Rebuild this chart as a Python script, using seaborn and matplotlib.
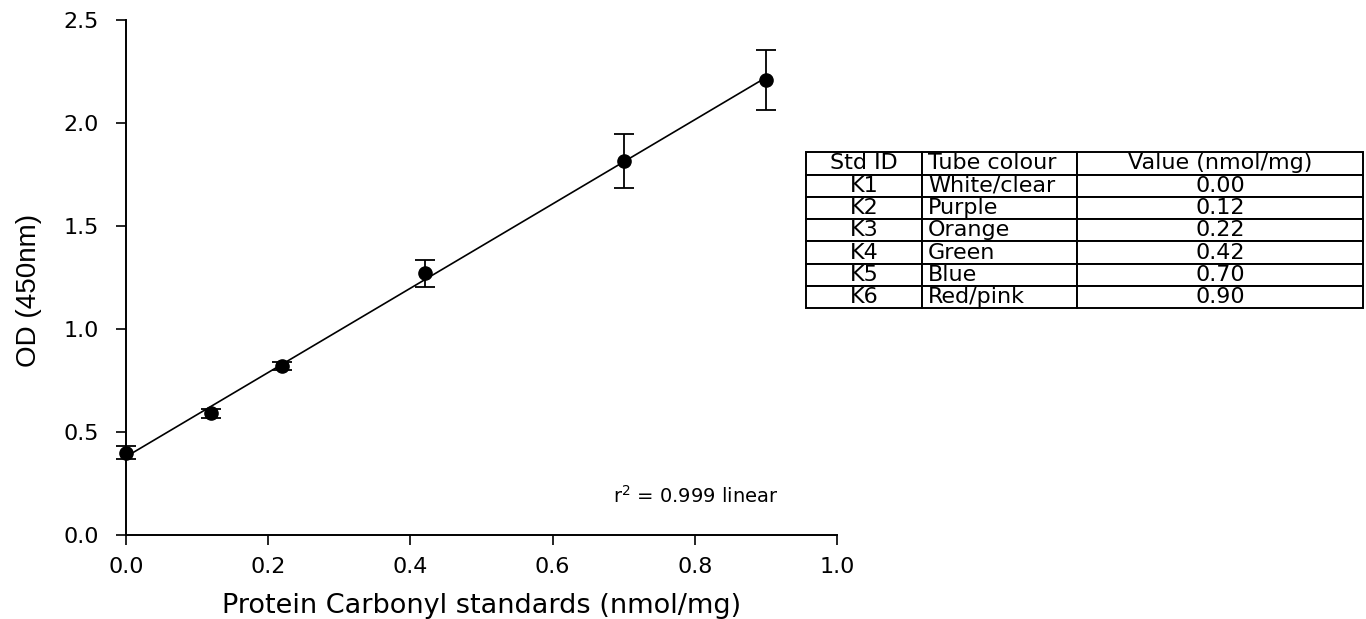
import numpy as np
import pandas as pd
import seaborn as sns
import matplotlib
matplotlib.use("Agg")
import matplotlib.pyplot as plt

# standard curve data
conc = [0.00, 0.12, 0.22, 0.42, 0.70, 0.90]
od = [0.40, 0.59, 0.82, 1.27, 1.815, 2.21]
od_err = [0.03, 0.02, 0.02, 0.065, 0.13, 0.145]

std_ids = ["K1", "K2", "K3", "K4", "K5", "K6"]
tube_colours = ["White/clear", "Purple", "Orange", "Green", "Blue", "Red/pink"]
std_values = ["0.00", "0.12", "0.22", "0.42", "0.70", "0.90"]

x_ticks = [0.0, 0.2, 0.4, 0.6, 0.8, 1.0]
y_ticks = [0.0, 0.5, 1.0, 1.5, 2.0, 2.5]

sns.set_style("ticks")
plt.rcParams["font.family"] = ["DejaVu Sans"]
plt.rcParams["text.color"] = "black"
plt.rcParams["axes.labelcolor"] = "black"
plt.rcParams["xtick.color"] = "black"
plt.rcParams["ytick.color"] = "black"

df = pd.DataFrame({"conc": conc, "od": od, "err": od_err})

fig = plt.figure(figsize=(13.66, 6.19), dpi=100)
ax = fig.add_axes([0.0922, 0.1357, 0.5205, 0.832])

sns.regplot(data=df, x="conc", y="od", scatter=False, ci=None, color="black",
            line_kws={"lw": 1.2}, ax=ax)
ax.errorbar(df["conc"], df["od"], yerr=df["err"], fmt="o", color="black",
            ms=9.5, capsize=7, elinewidth=1.3, capthick=1.3, clip_on=False, zorder=5)

ax.set_xlim(0, 1.0)
ax.set_ylim(0, 2.5)
ax.set_xticks(x_ticks)
ax.set_yticks(y_ticks)
ax.set_xticklabels([f"{v:.1f}" for v in x_ticks])
ax.set_yticklabels([f"{v:.1f}" for v in y_ticks])
ax.tick_params(axis="both", labelsize=16, length=7.5, width=1.2, color="black")
ax.tick_params(axis="y", pad=12)
ax.tick_params(axis="x", pad=8)
sns.despine(ax=ax)
for s in ["left", "bottom"]:
    ax.spines[s].set_linewidth(1.4)
    ax.spines[s].set_color("black")

ax.set_xlabel("Protein Carbonyl standards (nmol/mg)", fontsize=19.5, labelpad=12)
ax.set_ylabel("OD (450nm)", fontsize=20, family="Liberation Sans")
ax.yaxis.set_label_coords(-0.118, 0.474)

ax.text(0.685, 0.19, "r$^2$ = 0.999 linear", fontsize=14, ha="left", va="center")

# table of standards
tax = fig.add_axes([0.590, 0.502, 0.408, 0.252])
tax.axis("off")
cells = [[i, c, v] for i, c, v in zip(std_ids, tube_colours, std_values)]
tbl = tax.table(cellText=cells, colLabels=["Std ID", "Tube colour", "Value (nmol/mg)"],
                bbox=[0, 0, 1, 1], colWidths=[0.208, 0.278, 0.514])
tbl.auto_set_font_size(False)
tbl.set_fontsize(16)
for (r, c), cell in tbl.get_celld().items():
    cell.set_linewidth(1.4)
    cell.set_edgecolor("black")
    if c == 1:
        cell.set_text_props(ha="left")
        cell.PAD = 0.04
    else:
        cell.set_text_props(ha="center")

fig.savefig("out.png", dpi=100)
